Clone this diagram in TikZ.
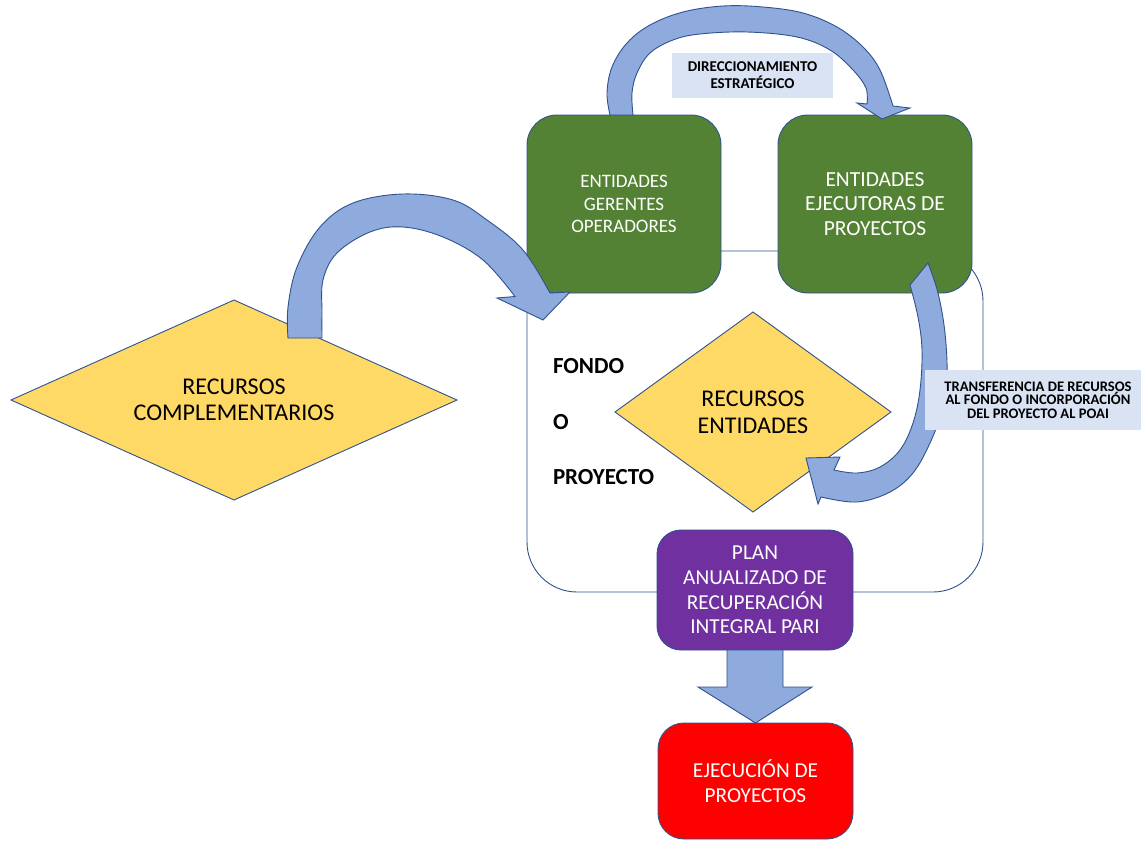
\documentclass[tikz,border=0pt]{standalone}
\usepackage{fontspec}
\setmainfont{Carlito}
\usetikzlibrary{shapes.geometric,calc}
\definecolor{edgeblue}{HTML}{2F528F}
\definecolor{arrowfill}{HTML}{8FAADC}
\definecolor{labelfill}{HTML}{DAE3F3}
\definecolor{boxgreen}{HTML}{548235}
\definecolor{boxyellow}{HTML}{FFD966}
\definecolor{boxpurple}{HTML}{7030A0}
\definecolor{boxred}{HTML}{FF0000}
\newcommand{\fsz}[2]{\fontsize{#1}{#2}\selectfont}
\begin{document}
\begin{tikzpicture}[x=1pt,y=-1pt,
  every node/.style={inner sep=0pt, outer sep=0pt},
  bigbox/.style={draw=edgeblue, line width=0.9pt, fill=white, rounded corners=50pt},
  greenbox/.style={draw=edgeblue, line width=0.9pt, fill=boxgreen, rounded corners=30pt, align=center, text=white},
  purplebox/.style={draw=edgeblue, line width=0.9pt, fill=boxpurple, rounded corners=24pt, align=center, text=white},
  redbox/.style={draw=edgeblue, line width=0.9pt, fill=boxred, rounded corners=26pt, align=center, text=white},
  ydiamond/.style={diamond, draw=edgeblue, line width=0.9pt, fill=boxyellow, align=center, text=black},
  sidelabel/.style={anchor=west, font={\bfseries\fsz{23pt}{27pt}}},
  tag/.style={fill=labelfill, align=center, font={\bfseries\fsz{14.6pt}{13.5pt}}},
  blockarrow/.style={fill=arrowfill, draw=edgeblue, line width=0.9pt, line join=miter}
]
\useasboundingbox (0,0) rectangle (1141,841);

% background frame (FONDO O PROYECTO)
\node[bigbox, minimum width=456pt, minimum height=341pt] (fondo) at (755,421.5) {};

% green boxes
\node[greenbox, minimum width=194pt, minimum height=178pt, font={\fsz{19pt}{22.5pt}}] (ger) at (624,204)
  {ENTIDADES\\GERENTES\\OPERADORES};
\node[greenbox, minimum width=194pt, minimum height=178pt, font={\fsz{21.5pt}{24.5pt}}] (eje) at (875,204)
  {ENTIDADES\\EJECUTORAS DE\\PROYECTOS};

% diamonds
\node[ydiamond, aspect=2.2, minimum width=446pt, minimum height=200pt, font={\fsz{24pt}{26pt}}] (comp) at (234,400)
  {RECURSOS\\COMPLEMENTARIOS};
\node[ydiamond, aspect=1.4, minimum width=276pt, minimum height=200pt, font={\fsz{24pt}{27pt}}] (rent) at (753,412)
  {RECURSOS\\ENTIDADES};

% side labels
\node[sidelabel] (lf) at (553,366) {FONDO};
\node[sidelabel] (lo) at (553,422) {O};
\node[sidelabel] (lp) at (553,477) {PROYECTO};

% plan and execution
\node[purplebox, minimum width=196pt, minimum height=120pt, font={\fsz{21.3pt}{24.7pt}}] (plan) at (755,590)
  {PLAN\\ANUALIZADO DE\\RECUPERACIÓN\\INTEGRAL PARI};
\node[redbox, minimum width=195pt, minimum height=116pt, font={\fsz{21.3pt}{25pt}}] (exec) at (755.5,781)
  {EJECUCIÓN DE\\PROYECTOS};

% top curved arrow (direccionamiento)
\draw[blockarrow] plot[smooth, tension=0.6] coordinates {(610,115) (607,93) (612,67) (627,43) (650,25) (683,12) (723,6) (763,7) (803,13) (837,27) (863,47) (880,70) (893,106)}
  -- (910,108) -- (882,119) -- (857,103)
  -- plot[smooth, tension=0.6] coordinates {(867,104) (866,88) (853,70) (830,50) (797,37) (747,32) (700,34) (673,40) (650,53) (637,73) (632,93) (633,115)}
  -- cycle;

% left curved arrow (recursos complementarios -> fondo)
\draw[blockarrow] plot[smooth, tension=0.6] coordinates {(288,338) (288,307) (297,267) (320,227) (353,203) (403,194) (453,200) (487,220) (523,250) (550,293)}
  -- (570,292) -- (543,320) -- (497,298)
  -- plot[smooth, tension=0.6] coordinates {(515,296.5) (483,260) (443,237) (403,227) (370,232) (337,253) (323,280) (322,313) (322,338)}
  -- cycle;

% right curved arrow (ejecutoras -> recursos entidades)
\draw[blockarrow] (910,285) -- plot[smooth, tension=0.6] coordinates {(928,263) (938,293) (945,333) (947,377) (942,410) (930,443) (913,473) (890,492) (857,502) (821,497)}
  -- (818,504) -- (806,458) -- (840,457)
  -- plot[smooth, tension=0.6] coordinates {(834,470) (857,473) (880,467) (900,450) (913,423) (920,390) (922,350) (918,317) (910,285)}
  -- cycle;

% down block arrow plan -> exec
\draw[blockarrow] ($(plan.south)+(-28,0)$) -- ++(0,37) -- ++(-29,0) -- (exec.north) -- ($(plan.south)+(57,37)$) -- ++(-29,0) -- ($(plan.south)+(28,0)$) -- cycle;

% labels
\node[tag, minimum width=161pt, minimum height=45pt, font={\bfseries\fsz{15pt}{17pt}}] (tdir) at (752.5,75.5)
  {DIRECCIONAMIENTO\\ESTRATÉGICO};
\node[tag, minimum width=226pt, minimum height=60pt] (ttra) at (1038,400)
  {TRANSFERENCIA DE RECURSOS\\AL FONDO O INCORPORACIÓN\\DEL PROYECTO AL POAI};
\end{tikzpicture}
\end{document}
